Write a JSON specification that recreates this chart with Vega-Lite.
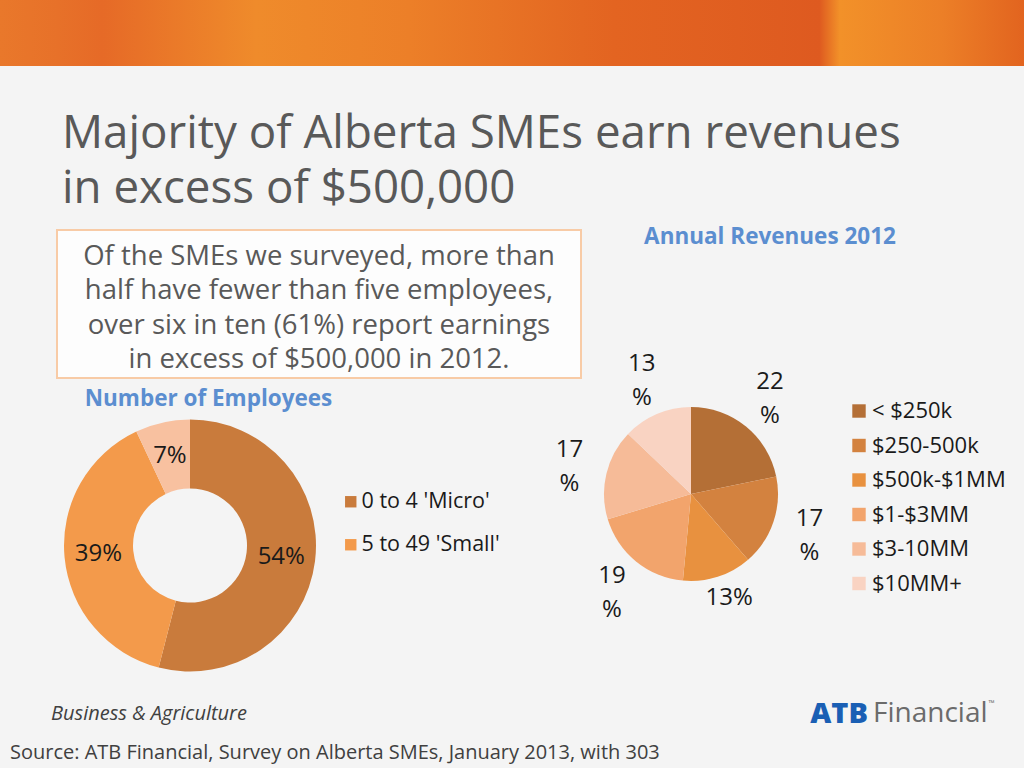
{
  "$schema": "https://vega.github.io/schema/vega-lite/v6.json",
  "padding": 0,
  "background": "#f4f4f4",
  "config": {
    "font": "Open Sans",
    "view": {"stroke": null}
  },
  "columns": 3,
  "spacing": 0,
  "bounds": "flush",
  "align": "each",
  "resolve": {"scale": {"color": "independent", "theta": "independent"}},
  "concat": [
    {
      "width": 57,
      "height": 66,
      "data": {"values": [{"band": "header"}]},
      "mark": {
        "type": "rect",
        "color": {
          "gradient": "linear", "x1": 0, "y1": 0, "x2": 1, "y2": 0,
          "stops": [
            {"offset": 0, "color": "#e9782b"},
            {"offset": 1, "color": "#e77129"}
          ]
        }
      },
      "encoding": {}
    },
    {
      "width": 524,
      "height": 66,
      "data": {"values": [{"band": "header"}]},
      "mark": {
        "type": "rect",
        "color": {
          "gradient": "linear", "x1": 0, "y1": 0, "x2": 1, "y2": 0,
          "stops": [
            {"offset": 0, "color": "#e77129"},
            {"offset": 0.087, "color": "#e66a27"},
            {"offset": 0.38, "color": "#ef8b2b"},
            {"offset": 0.673, "color": "#ec7f28"},
            {"offset": 1, "color": "#e46822"}
          ]
        }
      },
      "encoding": {}
    },
    {
      "width": 443,
      "height": 66,
      "data": {"values": [{"band": "header"}]},
      "mark": {
        "type": "rect",
        "color": {
          "gradient": "linear", "x1": 0, "y1": 0, "x2": 1, "y2": 0,
          "stops": [
            {"offset": 0, "color": "#e46822"},
            {"offset": 0.075, "color": "#e36421"},
            {"offset": 0.538, "color": "#de5a20"},
            {"offset": 0.584, "color": "#f29129"},
            {"offset": 0.815, "color": "#ec7f27"},
            {"offset": 1, "color": "#e2641f"}
          ]
        }
      },
      "encoding": {}
    },
    {"width": 0, "height": 0, "data": {"values": []}, "mark": "point", "encoding": {}},
    {
      "width": 10,
      "height": 164,
      "data": {
        "values": [
          {"line": 1, "text": "Majority of Alberta SMEs earn revenues"},
          {"line": 2, "text": "in excess of $500,000"}
        ]
      },
      "mark": {"type": "text", "align": "left", "baseline": "alphabetic", "fontSize": 45.7, "color": "#595959"},
      "encoding": {
        "y": {"field": "line", "type": "ordinal", "axis": null, "scale": {"type": "point", "padding": 1.077, "align": 0.75}},
        "text": {"field": "text"}
      }
    },
    {"width": 0, "height": 0, "data": {"values": []}, "mark": "point", "encoding": {}},
    {"width": 0, "height": 0, "data": {"values": []}, "mark": "point", "encoding": {}},
    {
      "width": 524,
      "height": 148,
      "view": {"fill": "#fdfdfd", "stroke": "#f8cba6", "strokeWidth": 2},
      "data": {
        "values": [
          {"line": 1, "text": "Of the SMEs we surveyed, more than"},
          {"line": 2, "text": "half have fewer than five employees,"},
          {"line": 3, "text": "over six in ten (61%) report earnings"},
          {"line": 4, "text": "in excess of $500,000 in 2012."}
        ]
      },
      "mark": {"type": "text", "fontSize": 27.5, "color": "#595959", "baseline": "middle", "align": "center"},
      "encoding": {
        "y": {"field": "line", "type": "ordinal", "axis": null, "scale": {"type": "point", "padding": 0.657, "align": 0.6}},
        "text": {"field": "text"}
      }
    },
    {
      "width": 378,
      "height": 14,
      "data": {"values": [{"heading": "Annual Revenues 2012"}]},
      "mark": {"type": "text", "fontSize": 22.5, "fontWeight": "bold", "color": "#5b8ed0", "baseline": "middle"},
      "encoding": {"text": {"field": "heading"}}
    },
    {"width": 0, "height": 0, "data": {"values": []}, "mark": "point", "encoding": {}},
    {
      "width": 303,
      "height": 42,
      "data": {"values": [{"heading": "Number of Employees"}]},
      "mark": {"type": "text", "fontSize": 22.5, "fontWeight": "bold", "color": "#5b8ed0", "baseline": "middle"},
      "encoding": {"text": {"field": "heading"}}
    },
    {"width": 0, "height": 0, "data": {"values": []}, "mark": "point", "encoding": {}},
    {"width": 0, "height": 0, "data": {"values": []}, "mark": "point", "encoding": {}},
    {
      "width": 266,
      "height": 251,
      "data": {
        "values": [
          {"size": "0 to 4 'Micro'", "share": 0.54, "rank": 1},
          {"size": "5 to 49 'Small'", "share": 0.39, "rank": 2},
          {"size": "50+ 'Medium'", "share": 0.07, "rank": 3}
        ]
      },
      "encoding": {
        "theta": {"field": "share", "type": "quantitative", "stack": true},
        "order": {"field": "rank", "type": "quantitative"}
      },
      "layer": [
        {
          "mark": {"type": "arc", "outerRadius": 126, "innerRadius": 57},
          "encoding": {
            "color": {
              "field": "size",
              "type": "nominal",
              "scale": {
                "domain": ["0 to 4 'Micro'", "5 to 49 'Small'", "50+ 'Medium'"],
                "range": ["#c97b3c", "#f39a4b", "#f8c1a0"]
              },
              "legend": {
                "orient": "none",
                "legendX": 283,
                "legendY": 71,
                "title": null,
                "values": ["0 to 4 'Micro'", "5 to 49 'Small'"],
                "symbolType": "square",
                "symbolSize": 130,
                "symbolStrokeWidth": 0,
                "labelFontSize": 21.5,
                "labelColor": "#1a1a1a",
                "labelOffset": 0,
                "rowPadding": 20,
                "padding": 0
              }
            }
          }
        },
        {
          "mark": {"type": "text", "radius": 92, "fontSize": 24, "color": "#1a1a1a"},
          "encoding": {
            "detail": {"field": "size"},
            "text": {"field": "share", "type": "quantitative", "format": ".0%"}
          }
        }
      ]
    },
    {
      "width": 220,
      "height": 148,
      "data": {
        "values": [
          {"revenue": "< $250k", "share": 0.22, "rank": 1},
          {"revenue": "$250-500k", "share": 0.17, "rank": 2},
          {"revenue": "$500k-$1MM", "share": 0.13, "rank": 3},
          {"revenue": "$1-$3MM", "share": 0.19, "rank": 4},
          {"revenue": "$3-10MM", "share": 0.17, "rank": 5},
          {"revenue": "$10MM+", "share": 0.13, "rank": 6}
        ]
      },
      "encoding": {
        "theta": {"field": "share", "type": "quantitative", "stack": true},
        "order": {"field": "rank", "type": "quantitative"}
      },
      "layer": [
        {
          "mark": {"type": "arc", "outerRadius": 87},
          "encoding": {
            "color": {
              "field": "revenue",
              "type": "nominal",
              "scale": {
                "domain": ["< $250k", "$250-500k", "$500k-$1MM", "$1-$3MM", "$3-10MM", "$10MM+"],
                "range": ["#b46f36", "#d3823f", "#e8913f", "#f2a46c", "#f6bb98", "#f9d3c2"]
              },
              "legend": {
                "orient": "none",
                "legendX": 267,
                "legendY": -20,
                "title": null,
                "symbolType": "square",
                "symbolSize": 180,
                "symbolStrokeWidth": 0,
                "labelFontSize": 22,
                "labelColor": "#1a1a1a",
                "labelOffset": 2,
                "rowPadding": 12.5,
                "padding": 0
              }
            }
          }
        },
        {
          "transform": [
            {"calculate": "datum.revenue === '$500k-$1MM' ? format(datum.share, '.0%') : [format(datum.share * 100, '.0f'), '%']", "as": "label"}
          ],
          "mark": {"type": "text", "radius": 125, "dy": -15, "fontSize": 24, "lineHeight": 34, "color": "#1a1a1a", "baseline": "middle"},
          "encoding": {
            "detail": {"field": "revenue"},
            "text": {"field": "label", "type": "nominal"}
          }
        }
      ]
    },
    {"width": 0, "height": 0, "data": {"values": []}, "mark": "point", "encoding": {}},
    {
      "width": 184,
      "height": 86,
      "data": {"values": [{"note": "Business & Agriculture"}]},
      "mark": {"type": "text", "fontSize": 20, "fontStyle": "italic", "color": "#404040", "baseline": "middle"},
      "encoding": {"text": {"field": "note"}}
    },
    {
      "width": 443,
      "height": 86,
      "layer": [
        {
          "data": {"values": [{"brand": "ATB"}]},
          "mark": {"type": "text", "align": "right", "dx": 65.5, "fontSize": 29, "fontWeight": 800, "color": "#1a5fb4", "baseline": "middle"},
          "encoding": {"text": {"field": "brand"}}
        },
        {
          "data": {"values": [{"brand": "Financial"}]},
          "mark": {"type": "text", "align": "left", "dx": 70.5, "fontSize": 28, "color": "#6b6b6b", "baseline": "middle"},
          "encoding": {"text": {"field": "brand"}}
        },
        {
          "data": {"values": [{"brand": "™"}]},
          "mark": {"type": "text", "align": "left", "dx": 186, "dy": -10, "fontSize": 8, "color": "#6b6b6b", "baseline": "middle"},
          "encoding": {"text": {"field": "brand"}}
        }
      ]
    },
    {
      "width": 20,
      "height": 11,
      "data": {"values": [{"note": "Source: ATB Financial, Survey on Alberta SMEs, January 2013, with 303"}]},
      "mark": {"type": "text", "align": "left", "fontSize": 20, "color": "#404040", "baseline": "bottom"},
      "encoding": {"text": {"field": "note"}}
    },
    {"width": 0, "height": 0, "data": {"values": []}, "mark": "point", "encoding": {}},
    {"width": 0, "height": 0, "data": {"values": []}, "mark": "point", "encoding": {}}
  ]
}
